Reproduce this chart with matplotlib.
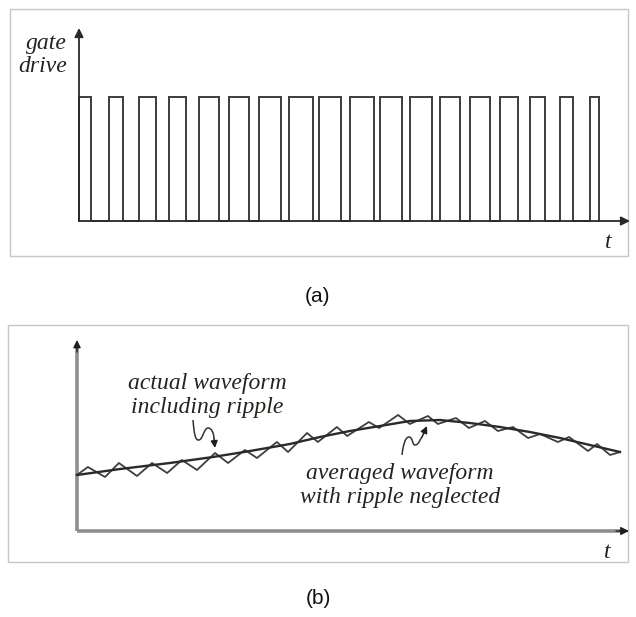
import numpy as np
import matplotlib
matplotlib.use("Agg")
import matplotlib.pyplot as plt
from matplotlib.patches import Rectangle, PathPatch
from matplotlib.path import Path

# --- (a) gate drive: one pulse per switching period, width = duty cycle
pulse_start = [0, 1, 2, 3, 4, 5, 6, 7, 8, 9, 10, 11, 12, 13, 14, 15, 16, 17]
duty = [0.40, 0.47, 0.55, 0.55, 0.65, 0.65, 0.71, 0.77, 0.72,
        0.80, 0.73, 0.75, 0.67, 0.67, 0.59, 0.50, 0.42, 0.31]

# --- (b) actual waveform (ripple vertices) and averaged waveform
ripple_t = [0.00, 0.36, 0.93, 1.39, 1.99, 2.49, 2.99, 3.48, 3.98, 4.58,
            5.01, 5.57, 5.97, 6.63, 7.00, 7.63, 7.99, 8.62, 8.96, 9.68,
            10.02, 10.65, 11.04, 11.64, 11.97, 12.57, 13.00, 13.53, 13.96, 14.46,
            14.96, 15.36, 15.95, 16.32, 16.95, 17.25, 17.68, 18.01]
ripple_v = [0.56, 0.64, 0.54, 0.68, 0.55, 0.68, 0.58, 0.71, 0.61, 0.78,
            0.68, 0.81, 0.73, 0.89, 0.79, 0.98, 0.89, 1.04, 0.95, 1.09,
            1.03, 1.16, 1.07, 1.15, 1.07, 1.13, 1.03, 1.10, 1.00, 1.04,
            0.93, 0.97, 0.89, 0.94, 0.80, 0.87, 0.76, 0.79]
avg_t = [0.00, 1.43, 3.08, 4.51, 5.74, 7.06, 8.06, 9.05, 10.05, 11.04,
         12.04, 13.03, 14.03, 15.02, 16.02, 17.01, 18.01]
avg_v = [0.56, 0.62, 0.68, 0.74, 0.80, 0.87, 0.94, 1.00, 1.05, 1.10,
         1.11, 1.08, 1.04, 0.99, 0.93, 0.86, 0.79]

W, H = 636, 617
TXT = "#27221e"
serif = dict(family="Liberation Serif", style="italic", color=TXT)

fig = plt.figure(figsize=(W / 100, H / 100), dpi=100)


def panel(box, origin, xscale, yscale):
    # box = (left, top, right, bottom) in pixels, origin = axis corner in pixels
    l, t, r, b = box
    ax = fig.add_axes([l / W, 1 - b / H, (r - l) / W, (b - t) / H])
    ax.set_xlim((l - origin[0]) / xscale, (r - origin[0]) / xscale)
    ax.set_ylim((origin[1] - b) / yscale, (origin[1] - t) / yscale)
    ax.axis("off")
    ax.add_patch(Rectangle((0, 0), 1, 1, transform=ax.transAxes, fill=False,
                           ec="#c6c6c6", lw=1.0, clip_on=False))

    def px(x, y):
        return (x - origin[0]) / xscale, (origin[1] - y) / yscale
    return ax, px


def arrow(ax, tip, tail, color, lw, ms):
    ax.annotate("", xy=tip, xytext=tail, annotation_clip=False,
                arrowprops=dict(arrowstyle="-|>", lw=lw, color=color,
                                mutation_scale=ms, shrinkA=0, shrinkB=0))


# ---------------- panel (a)
ax_a, pa = panel((10, 9, 628, 256), (79, 221), 30.06, 124)

xs, ys = [], []
for s, d in zip(pulse_start, duty):
    xs += [s, s, s + d, s + d]
    ys += [0, 1, 1, 0]
ax_a.plot(xs, ys, color="#3c3c3c", lw=1.4, solid_joinstyle="miter")

arrow(ax_a, pa(630, 221), pa(79, 221), "#2a2a2a", 1.3, 13)
arrow(ax_a, pa(79, 28), pa(79, 221), "#2a2a2a", 1.3, 13)
ax_a.text(*pa(67, 43), "gate", ha="right", va="center", fontsize=17, **serif)
ax_a.text(*pa(67, 67), "drive", ha="right", va="center", fontsize=17, **serif)
ax_a.text(*pa(608, 242), "t", ha="center", va="center", fontsize=17, **serif)

fig.text(318 / W, 1 - 296 / H, "(a)", ha="center", va="center",
         fontsize=15, family="Liberation Sans", color="#111111")

# ---------------- panel (b)
ax_b, pb = panel((8, 325, 628, 562), (77, 531), 30.15, 100)

ax_b.plot(*zip(pb(77, 531), pb(620, 531)), color="#8e8e8e", lw=2.6,
          solid_capstyle="butt")
ax_b.plot(*zip(pb(77, 531), pb(77, 348)), color="#8e8e8e", lw=2.6,
          solid_capstyle="butt")
arrow(ax_b, pb(629, 531), pb(616, 531), "#1e1e1e", 1.0, 12)
arrow(ax_b, pb(77, 340), pb(77, 352), "#1e1e1e", 1.0, 11)

ax_b.plot(ripple_t, ripple_v, color="#3e3e3e", lw=1.3)
ax_b.plot(avg_t, avg_v, color="#2a2a2a", lw=1.7)

ax_b.text(*pb(207, 383), "actual waveform", ha="center", va="center",
          fontsize=17, **serif)
ax_b.text(*pb(207, 407), "including ripple", ha="center", va="center",
          fontsize=17, **serif)
ax_b.text(*pb(400, 473), "averaged waveform", ha="center", va="center",
          fontsize=17, **serif)
ax_b.text(*pb(400, 498), "with ripple neglected", ha="center", va="center",
          fontsize=17, **serif)
ax_b.text(*pb(607, 552), "t", ha="center", va="center", fontsize=17, **serif)


def squiggle(ax, conv, pts, tail, tip):
    verts = [conv(*p) for p in pts]
    codes = [Path.MOVETO] + [Path.CURVE4] * (len(pts) - 1)
    ax.add_patch(PathPatch(Path(verts, codes), fc="none", ec="#333333", lw=1.1))
    arrow(ax, conv(*tip), conv(*tail), "#1e1e1e", 1.1, 10)


squiggle(ax_b, pb,
         [(193, 420), (194, 432), (195, 441), (199, 440),
          (203, 439), (204, 428), (208, 428),
          (212, 428), (214, 434), (214, 439)],
         (214, 439), (215, 448))
squiggle(ax_b, pb,
         [(402, 455), (403, 446), (405, 437), (409, 437),
          (413, 437), (412, 445), (415, 445),
          (419, 445), (420, 439), (422, 437)],
         (422, 437), (427, 426))

fig.text(318 / W, 1 - 598 / H, "(b)", ha="center", va="center",
         fontsize=15, family="Liberation Sans", color="#111111")

fig.savefig("out.png", dpi=100, facecolor="white")
